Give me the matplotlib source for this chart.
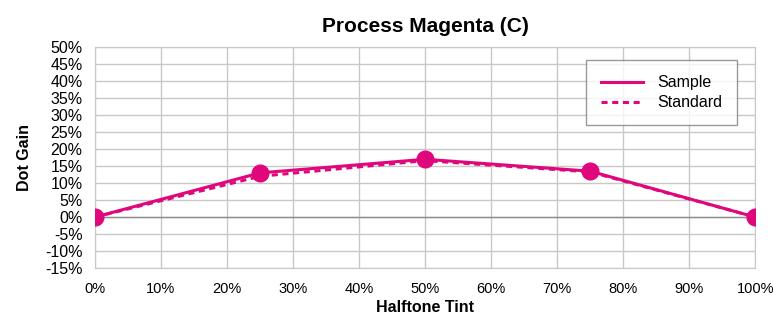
import matplotlib
matplotlib.use("Agg")
import matplotlib.pyplot as plt
from matplotlib.ticker import FuncFormatter, MultipleLocator

# Data
tint = [0, 25, 50, 75, 100]
sample_gain = [0, 13.0, 17.0, 13.5, 0]
standard_gain = [0, 12.0, 16.6, 13.3, 0]

MAGENTA = "#E0077D"
GRID = "#c8c8c8"

plt.rcParams["font.family"] = ["Liberation Sans", "DejaVu Sans"]

fig = plt.figure(figsize=(7.74, 3.18), dpi=100)
ax = fig.add_axes([0.1227, 0.157, 0.853, 0.695])

ax.plot(tint, standard_gain, color=MAGENTA, lw=2.2, ls=(0, (2, 1.5)), label="Standard", zorder=3)
ax.plot(tint, sample_gain, color=MAGENTA, lw=2.2, label="Sample", zorder=4)
ax.plot(tint, sample_gain, "o", color=MAGENTA, ms=12, zorder=5)

ax.set_xlim(0, 100)
ax.set_ylim(-15, 50)
ax.xaxis.set_major_locator(MultipleLocator(10))
ax.yaxis.set_major_locator(MultipleLocator(5))
pct = FuncFormatter(lambda v, p: f"{v:.0f}%")
ax.xaxis.set_major_formatter(pct)
ax.yaxis.set_major_formatter(pct)
ax.tick_params(length=0, labelsize=11.5)
ax.tick_params(axis="x", pad=10, labelsize=10.5)
ax.tick_params(axis="y", pad=9)
ax.grid(True, color=GRID, lw=1)
ax.axhline(0, color="#8c8c8c", lw=1, zorder=2)
for s in ax.spines.values():
    s.set_color(GRID)

ax.set_title("Process Magenta (C)", fontsize=15, fontweight="bold", pad=11)
ax.set_xlabel("Halftone Tint", fontsize=11.5, fontweight="bold", labelpad=3)
ax.set_ylabel("Dot Gain", fontsize=11.5, fontweight="bold", labelpad=9)

handles, labels = ax.get_legend_handles_labels()
leg = ax.legend(handles[::-1], labels[::-1], loc="upper left", bbox_to_anchor=(0.744, 0.94),
                frameon=True, fancybox=False, fontsize=11.5, handlelength=2.6, borderpad=0.95,
                labelspacing=0.3, handletextpad=0.9, borderaxespad=0)
leg.get_frame().set_edgecolor("#808080")
leg.get_frame().set_linewidth(1)

fig.savefig("out.png", dpi=100)
